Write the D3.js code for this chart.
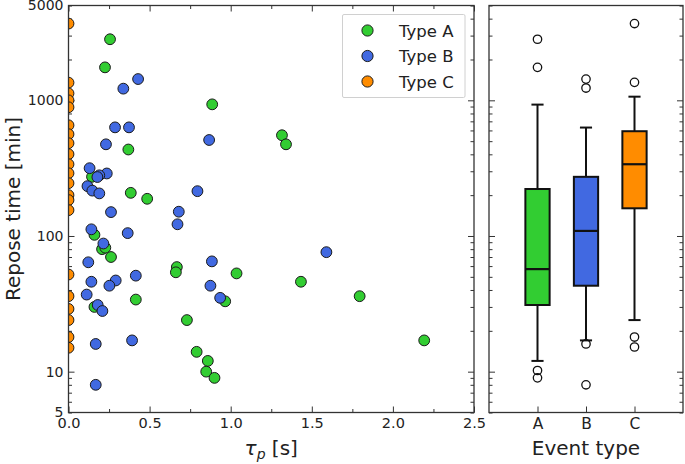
<!DOCTYPE html>
<html>
<head>
<meta charset="utf-8">
<script src="https://cdn.jsdelivr.net/npm/d3@7"></script>
<style>
  html, body { margin: 0; padding: 0; background: #fff; }
  svg { display: block; font-family: "DejaVu Sans", sans-serif; }
</style>
</head>
<body>
<svg id="chart" width="685" height="464"></svg>
<script>
// ---------- data ----------
const typeA_tau = [0.256, 0.225, 0.886, 1.316, 1.341, 0.369, 0.145, 0.384, 0.485, 0.160, 0.207, 0.227, 0.262, 0.668, 0.662, 1.036, 1.433, 1.795, 0.415, 0.966, 0.160, 0.730, 2.193, 0.790, 0.859, 0.849, 0.900];
const typeA_rep = [2820, 1750, 934, 553, 474, 434, 273, 208, 188, 102, 80, 82, 70, 59, 54, 53, 46, 36, 34, 33, 30, 24, 17, 14, 12, 10, 9];

const typeB_tau = [0.429, 0.338, 0.287, 0.373, 0.867, 0.231, 0.130, 0.236, 0.190, 0.178, 0.117, 0.147, 0.190, 0.795, 0.262, 0.680, 0.672, 0.141, 0.365, 0.215, 1.590, 0.122, 0.884, 0.415, 0.291, 0.141, 0.252, 0.875, 0.112, 0.935, 0.180, 0.209, 0.392, 0.168, 0.168];
const typeB_rep = [1435, 1219, 632, 632, 510, 474, 316, 289, 280, 272, 233, 216, 206, 214, 150, 151, 122, 112, 105, 88, 76, 64, 65, 51, 47, 46, 43, 43, 37, 35, 31, 28, 17, 16, 8];

const typeC_tau = [0, 0, 0, 0, 0, 0, 0, 0, 0, 0, 0, 0, 0, 0, 0, 0, 0, 0, 0, 0, 0];
const typeC_rep = [3680, 1350, 1125, 1000, 889, 655, 563, 483, 401, 338, 290, 245, 200, 184, 155, 52, 36, 29, 24, 18, 15];

const seriesNames = ["Type A", "Type B", "Type C"];
const seriesColors = ["#32cd32", "#4169e1", "#ff8c00"];

const boxCats = ["A", "B", "C"];
const boxQ1 = [31, 43, 160];
const boxMedian = [57, 109, 338];
const boxQ3 = [222, 273, 592];
const whiskerLow = [12, 17, 24];
const whiskerHigh = [930, 630, 1064];
const outliersA = [2820, 1750, 10.2, 9.0];
const outliersB = [1434, 1232, 16, 8];
const outliersC = [3680, 1357, 18, 15.2];

const xTicks = [0, 0.5, 1.0, 1.5, 2.0, 2.5];
const xMinorTicks = [0.25, 0.75, 1.25, 1.75, 2.25];
const yTickLabels = [5, 10, 100, 1000, 5000];

// ---------- layout ----------
const svg = d3.select("#chart");
const L = { left: 68.5, right: 474, top: 5.5, bottom: 412.5 };
const R = { left: 489, right: 683 };
const frameColor = "#333";
const majorLen = 6, minorLen = 3.5;

const x = d3.scaleLinear().domain([0, 2.5]).range([L.left, L.right]);
const y = d3.scaleLog().domain([5, 5000]).range([L.bottom, L.top]);
const xb = d3.scaleLinear().domain([0, 4]).range([R.left, R.right]);

const yMinor = [];
[1, 10, 100, 1000].forEach(d => { for (let k = 2; k <= 9; k++) { const v = k * d; if (v >= 5 && v <= 5000) yMinor.push(v); } });
const yMajor = [10, 100, 1000];

function styleAxis(g, fs) {
  g.select(".domain").remove();
  g.selectAll(".tick line").attr("stroke", frameColor).attr("stroke-width", 1);
  g.selectAll(".tick text").attr("fill", "#222").style("font-size", (fs || 14.5) + "px").style("font-family", "DejaVu Sans");
}

// ---------- left panel ----------
svg.append("defs").append("clipPath").attr("id", "clipL")
  .append("rect").attr("x", L.left).attr("y", L.top).attr("width", L.right - L.left).attr("height", L.bottom - L.top);

svg.append("g").attr("transform", `translate(0,${L.bottom})`)
  .call(d3.axisBottom(x).tickValues(xTicks).tickSize(-majorLen).tickPadding(5).tickFormat(d3.format(".1f")))
  .call(styleAxis);
svg.append("g").attr("transform", `translate(0,${L.bottom})`)
  .call(d3.axisBottom(x).tickValues(xMinorTicks).tickSize(-minorLen).tickFormat(""))
  .call(styleAxis);
svg.append("g").attr("transform", `translate(0,${L.top})`)
  .call(d3.axisTop(x).tickValues(xTicks).tickSize(-majorLen).tickFormat(""))
  .call(styleAxis);
svg.append("g").attr("transform", `translate(0,${L.top})`)
  .call(d3.axisTop(x).tickValues(xMinorTicks).tickSize(-minorLen).tickFormat(""))
  .call(styleAxis);

function yAxes(left, right, withLabels) {
  svg.append("g").attr("transform", `translate(${left},0)`)
    .call(d3.axisLeft(y).tickValues(yMajor).tickSize(-majorLen).tickFormat(""))
    .call(styleAxis);
  svg.append("g").attr("transform", `translate(${left},0)`)
    .call(d3.axisLeft(y).tickValues(yMinor).tickSize(-minorLen).tickFormat(""))
    .call(styleAxis);
  svg.append("g").attr("transform", `translate(${right},0)`)
    .call(d3.axisRight(y).tickValues(yMajor).tickSize(-majorLen).tickFormat(""))
    .call(styleAxis);
  svg.append("g").attr("transform", `translate(${right},0)`)
    .call(d3.axisRight(y).tickValues(yMinor).tickSize(-minorLen).tickFormat(""))
    .call(styleAxis);
  if (withLabels) {
    svg.append("g").attr("transform", `translate(${left},0)`)
      .call(d3.axisLeft(y).tickValues(yTickLabels).tickSize(0).tickPadding(5).tickFormat(d3.format("d")))
      .call(g => styleAxis(g, 14));
  }
}
yAxes(L.left, L.right, true);

// scatter points
const scatterG = svg.append("g").attr("clip-path", "url(#clipL)");
const seriesData = [
  d3.zip(typeA_tau, typeA_rep),
  d3.zip(typeB_tau, typeB_rep),
  d3.zip(typeC_tau, typeC_rep)
];
seriesData.forEach((pts, i) => {
  scatterG.append("g").selectAll("circle").data(pts).join("circle")
    .attr("cx", d => x(d[0])).attr("cy", d => y(d[1])).attr("r", 5.4)
    .attr("fill", seriesColors[i]).attr("stroke", "#1a1a1a").attr("stroke-width", 1);
});

// frame
svg.append("rect").attr("x", L.left).attr("y", L.top).attr("width", L.right - L.left).attr("height", L.bottom - L.top)
  .attr("fill", "none").attr("stroke", frameColor).attr("stroke-width", 1.3);

// legend
const lg = svg.append("g");
lg.append("rect").attr("x", 342.5).attr("y", 14.5).attr("width", 122.5).attr("height", 83)
  .attr("fill", "#fff").attr("fill-opacity", 0.85).attr("stroke", "#d0d0d0").attr("stroke-width", 1).attr("rx", 1.5);
seriesNames.forEach((name, i) => {
  const cy = 30.5 + i * 25.5;
  lg.append("circle").attr("cx", 367.5).attr("cy", cy).attr("r", 5.6)
    .attr("fill", seriesColors[i]).attr("stroke", "#1a1a1a").attr("stroke-width", 1);
  lg.append("text").attr("x", 399).attr("y", cy + 6).text(name)
    .attr("fill", "#222").style("font-size", "16.5px");
});

// axis labels
svg.append("text").attr("transform", `translate(20,${(L.top + L.bottom) / 2}) rotate(-90)`)
  .attr("text-anchor", "middle").style("font-size", "20px").attr("fill", "#222").text("Repose time [min]");
const xl = svg.append("text").attr("x", (L.left + L.right) / 2).attr("y", 455)
  .attr("text-anchor", "middle").style("font-size", "20px").attr("fill", "#222");
xl.append("tspan").style("font-style", "italic").text("τ");
xl.append("tspan").style("font-style", "italic").style("font-size", "14px").attr("dy", 4).text("p");
xl.append("tspan").attr("dy", -4).text(" [s]");

// ---------- right panel ----------
yAxes(R.left, R.right, false);
svg.append("g").attr("transform", `translate(0,${L.bottom})`)
  .call(d3.axisBottom(xb).tickValues([1, 2, 3]).tickSize(-majorLen).tickPadding(5).tickFormat((d, i) => boxCats[i]))
  .call(g => styleAxis(g, 15.5));

const outliers = [outliersA, outliersB, outliersC];
const bw = 0.5, cw = 0.25;
const boxG = svg.append("g");
boxCats.forEach((c, i) => {
  const pos = i + 1;
  const cx = xb(pos);
  const g = boxG.append("g");
  g.append("line").attr("x1", cx).attr("x2", cx).attr("y1", y(boxQ3[i])).attr("y2", y(whiskerHigh[i]))
    .attr("stroke", "#111").attr("stroke-width", 2);
  g.append("line").attr("x1", cx).attr("x2", cx).attr("y1", y(boxQ1[i])).attr("y2", y(whiskerLow[i]))
    .attr("stroke", "#111").attr("stroke-width", 2);
  [whiskerHigh[i], whiskerLow[i]].forEach(v => {
    g.append("line").attr("x1", xb(pos - cw / 2)).attr("x2", xb(pos + cw / 2)).attr("y1", y(v)).attr("y2", y(v))
      .attr("stroke", "#111").attr("stroke-width", 2);
  });
  g.append("rect").attr("x", xb(pos - bw / 2)).attr("width", xb(pos + bw / 2) - xb(pos - bw / 2))
    .attr("y", y(boxQ3[i])).attr("height", y(boxQ1[i]) - y(boxQ3[i]))
    .attr("fill", seriesColors[i]).attr("stroke", "#111").attr("stroke-width", 2);
  g.append("line").attr("x1", xb(pos - bw / 2)).attr("x2", xb(pos + bw / 2)).attr("y1", y(boxMedian[i])).attr("y2", y(boxMedian[i]))
    .attr("stroke", "#111").attr("stroke-width", 2.2);
  g.selectAll("circle.o").data(outliers[i]).join("circle").attr("class", "o")
    .attr("cx", cx).attr("cy", d => y(d)).attr("r", 4.2)
    .attr("fill", "none").attr("stroke", "#111").attr("stroke-width", 1.3);
});

svg.append("rect").attr("x", R.left).attr("y", L.top).attr("width", R.right - R.left).attr("height", L.bottom - L.top)
  .attr("fill", "none").attr("stroke", frameColor).attr("stroke-width", 1.3);

svg.append("text").attr("x", (R.left + R.right) / 2).attr("y", 455)
  .attr("text-anchor", "middle").style("font-size", "20px").attr("fill", "#222").text("Event type");
</script>
</body>
</html>
